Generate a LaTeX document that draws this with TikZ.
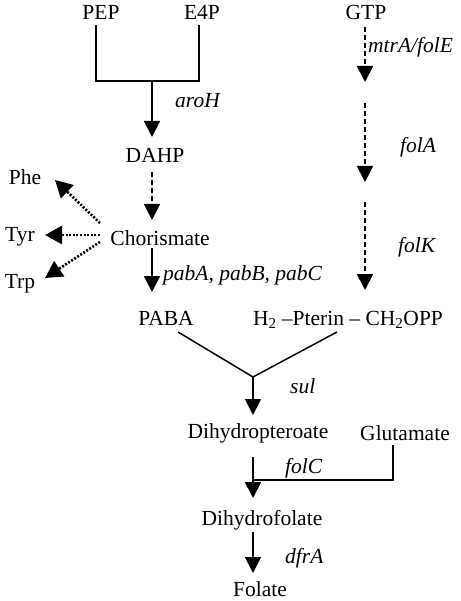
\documentclass[tikz,border=0pt]{standalone}
\usepackage{fontspec}
\setmainfont{Liberation Serif}
\usetikzlibrary{arrows.meta}
\begin{document}
\begin{tikzpicture}[x=1pt,y=-1pt,
  lbl/.style={font=\fontsize{21.5}{24}\selectfont, inner sep=0pt, anchor=base},
  gene/.style={font=\fontsize{21.5}{24}\selectfont\itshape, inner sep=0pt, anchor=base west},
  plain/.style={line width=1.5pt},
  solidarr/.style={line width=1.8pt, -{Triangle[width=16pt,length=16pt]}},
  dasharr/.style={solidarr, dash pattern=on 5pt off 3pt},
  dotarr/.style={line width=2.6pt, dash pattern=on 2pt off 1.6pt, -{Triangle[width=18pt,length=17pt]}}]
\fill[white] (0,0) rectangle (460,601);
\useasboundingbox (0,0) rectangle (460,601);
% metabolites
\node[lbl] (PEP) at (101,20) {PEP};
\node[lbl] (E4P) at (202,20) {E4P};
\node[lbl] (GTP) at (366,20) {GTP};
\node[lbl] (DAHP) at (155,163) {DAHP};
\node[lbl] (Cho) at (160,245) {Chorismate};
\node[lbl] (Phe) at (25,185) {Phe};
\node[lbl] (Tyr) at (20,242) {Tyr};
\node[lbl] (Trp) at (20,288) {Trp};
\node[lbl] (PABA) at (166,325) {PABA};
\node[lbl] (Pter) at (348,325) {H\textsubscript{2} –Pterin – CH\textsubscript{2}OPP};
\node[lbl] (DHP) at (258,438) {Dihydropteroate};
\node[lbl] (Glu) at (405,440) {Glutamate};
\node[lbl] (DHF) at (262,525) {Dihydrofolate};
\node[lbl] (Fol) at (260,596) {Folate};
% genes
\node[gene] (aroH) at (175,108) {aroH};
\node[gene] (mtrA) at (368,53) {mtrA/folE};
\node[gene] (folA) at (400,153) {folA};
\node[gene] (folK) at (398,252) {folK};
\node[gene] (pab) at (163,280) {pabA, pabB, pabC};
\node[gene] (sul) at (290,393) {sul};
\node[gene] (folC) at (285,473) {folC};
\node[gene] (dfrA) at (285,563) {dfrA};
% coordinates
\coordinate (pepB) at (96,25);
\coordinate (pepC) at (96,81);
\coordinate (e4pB) at (199,25);
\coordinate (e4pC) at (199,81);
\coordinate (brM) at (152,81);
\coordinate (dahpT) at (152,137);
\coordinate (dahpB) at (152,172);
\coordinate (choT) at (152,220);
\coordinate (choB) at (152,248);
\coordinate (pabaT) at (152,292);
\coordinate (choL1) at (100,223);
\coordinate (choL2) at (100,235);
\coordinate (choL3) at (100,242);
\coordinate (pheT) at (55,180);
\coordinate (tyrT) at (45,235);
\coordinate (trpT) at (45,278);
\coordinate (gtpB) at (365,27);
\coordinate (g1T) at (365,82);
\coordinate (g2B) at (365,103);
\coordinate (g2T) at (365,182);
\coordinate (g3B) at (365,202);
\coordinate (pterT) at (365,290);
\coordinate (pabaB) at (178,332);
\coordinate (pterB) at (337,332);
\coordinate (yM) at (253,377);
\coordinate (dhpT) at (253,415);
\coordinate (dhpB) at (253,457);
\coordinate (gluB) at (393,445);
\coordinate (gluC) at (393,480);
\coordinate (gluJ) at (253,480);
\coordinate (dhfT) at (253,498);
\coordinate (dhfB) at (253,532);
\coordinate (folT) at (253,573);
% connectors
\draw[plain] (pepB) -- (pepC) -- (e4pC) -- (e4pB);
\draw[solidarr] (brM) -- (dahpT);
\draw[dasharr] (dahpB) -- (choT);
\draw[solidarr] (choB) -- (pabaT);
\draw[dotarr] (choL1) -- (pheT);
\draw[dotarr] (choL2) -- (tyrT);
\draw[dotarr] (choL3) -- (trpT);
\draw[dasharr] (gtpB) -- (g1T);
\draw[dasharr] (g2B) -- (g2T);
\draw[dasharr] (g3B) -- (pterT);
\draw[plain] (pabaB) -- (yM) -- (pterB);
\draw[solidarr] (yM) -- (dhpT);
\draw[plain] (gluB) -- (gluC) -- (gluJ);
\draw[solidarr] (dhpB) -- (dhfT);
\draw[solidarr] (dhfB) -- (folT);
\end{tikzpicture}
\end{document}
